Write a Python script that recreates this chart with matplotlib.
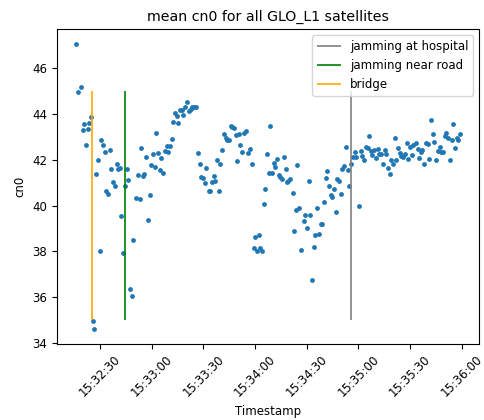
import numpy as np
import pandas as pd
import matplotlib
matplotlib.use("Agg")
import matplotlib.pyplot as plt
import matplotlib.dates as mdates

plt.rcParams.update({'font.size': 8.5})

# seconds after 15:32:30 and mean cn0
base_time = "2023-01-01 15:32:30"
secs = [-13.7, -12.5, -11.0, -10.0, -9.1, -8.1, -7.1, -6.2, -5.4, -4.2, -3.3, -2.1, -1.35, -0.2,
        0.8, 1.7, 2.7, 3.7, 4.6, 5.6, 6.6, 7.7, 8.7, 9.7, 10.6, 11.6, 12.5, 13.3, 14.5, 15.6,
        16.6, 17.6, 18.5, 19.5, 21.0, 22.1, 23.0, 23.9, 24.9, 25.8, 26.8, 27.8, 28.8, 29.7,
        30.9, 31.8, 32.8, 33.8, 34.7, 35.7, 36.9, 37.8, 38.8, 39.8, 40.7, 41.7, 42.7, 43.6,
        44.6, 45.6, 46.5, 47.5, 48.5, 49.6, 50.6, 51.5, 52.7, 53.7, 54.6, 55.6,
        56.9, 57.9, 58.9, 60.0, 61.0, 61.8, 63.1, 63.9, 65.0, 66.0, 67.0, 67.9, 68.9, 69.9,
        70.8, 71.8, 73.0, 74.0, 74.9, 75.9, 76.9, 77.8, 78.8, 79.7, 80.7, 81.6, 82.6, 83.8,
        84.7, 86.0, 87.2, 88.2, 89.2, 90.1, 91.1, 92.3, 93.0, 94.2, 95.0, 95.9, 96.9, 98.1,
        99.0, 100.0, 101.0, 101.9, 102.9, 103.8, 104.8, 105.8, 106.9, 107.9, 108.7, 109.4,
        110.2, 111.8, 112.9, 113.7, 114.6, 115.8, 116.8, 118.3, 119.1, 120.0, 121.2, 122.2,
        123.1, 124.1, 125.1, 126.0, 127.2, 128.2, 129.1, 130.1, 131.1, 132.0, 133.0,
        134.0, 134.9, 135.8, 136.8, 137.8, 138.8, 139.9, 140.8, 141.7, 142.9, 143.8, 144.8,
        145.7, 146.7, 147.9, 148.8, 150.3, 151.3, 152.3, 153.2, 154.4, 155.4, 156.3, 157.3,
        158.2, 159.2, 160.2, 161.2, 162.1, 163.1, 164.1, 165.2, 166.2, 167.2, 168.1, 169.1,
        170.1, 171.0, 172.0, 173.0, 173.9, 174.9, 175.9, 176.8, 178.0, 179.0, 179.9, 181.1,
        182.0, 183.4, 184.4, 185.3, 186.3, 187.2, 188.4, 189.4, 190.3, 191.3, 192.3, 193.2,
        194.2, 195.2, 196.3, 197.3, 198.2, 199.2, 200.2, 201.1, 202.1, 203.2, 204.2, 205.2,
        206.2, 207.1, 208.1, 209.0]
cn0 = [47.07, 44.96, 45.20, 43.29, 43.55, 42.66, 43.33, 43.62, 43.87, 34.94, 34.60, 41.40, 41.98, 38.02,
       42.88, 42.65, 42.36, 40.65, 40.51, 42.43, 41.58, 41.03, 40.87, 41.80, 41.58, 41.66, 39.53, 37.95,
       40.84, 41.58, 41.10, 36.35, 36.06, 38.50, 40.32, 41.35, 40.27, 42.50, 41.29, 41.36, 42.14, 39.39,
       40.48, 41.77, 42.25, 41.67, 43.17, 42.30, 41.57, 42.08, 41.42, 42.38, 42.62, 42.36, 42.59, 42.92,
       43.65, 44.06, 43.90, 43.62, 44.16, 44.17, 43.95, 44.32, 44.51, 44.11, 44.22, 44.29, 44.29, 44.29,
       42.28, 41.83, 41.25, 41.19, 40.97, 41.64, 40.65, 40.65, 41.02, 41.31, 41.06, 41.99, 40.65, 41.83,
       42.43, 43.14, 42.93, 42.88, 42.86, 43.49, 43.44, 43.37, 43.10, 41.95, 43.14, 42.64, 42.33, 43.17,
       43.24, 42.28, 42.47, 41.80, 38.14, 38.65, 38.01, 38.70, 38.15, 38.01, 40.09, 40.73, 42.24, 41.42,
       43.46, 41.44, 41.88, 41.69, 42.05, 41.35, 41.25, 41.16, 42.12, 41.58, 41.02, 41.07,
       41.16, 40.54, 38.89, 39.80, 41.76, 39.88, 38.05, 39.34, 39.61, 39.03, 41.06, 39.61,
       36.77, 38.21, 38.73, 39.91, 38.78, 39.20, 39.20, 40.17, 41.21, 41.51, 40.87,
       40.46, 40.38, 40.73, 39.72, 41.16, 41.09, 40.51, 41.61, 41.73, 42.57, 41.54, 40.87,
       41.83, 42.14, 42.33, 42.14, 39.98, 42.40, 42.18, 42.01, 42.54, 42.50, 43.02, 42.37,
       42.21, 42.41, 42.07, 42.45, 42.25, 42.27, 41.80, 42.41, 42.25, 41.64, 41.39, 41.97,
       41.80, 42.95, 41.97, 42.50, 42.30, 42.15, 42.12, 42.27, 42.73, 42.05, 42.56, 42.21,
       42.64, 42.73, 42.47, 42.07, 42.32, 42.44, 41.80, 42.73, 42.70, 42.05, 43.72, 43.14,
       42.79, 41.97, 42.37, 42.54, 42.32, 42.32, 43.02, 43.17, 42.94, 41.97, 42.85, 43.55,
       42.50, 42.94, 42.87, 43.13]

# event markers
events = ["jamming at hospital", "jamming near road", "bridge"]
event_secs = [145.7, 14.3, -4.4]
event_colors = ["grey", "green", "orange"]
line_lo, line_hi = 35, 45

t0 = pd.Timestamp(base_time)
times = t0 + pd.to_timedelta(secs, unit="s")

fig = plt.figure(figsize=(4.84, 4.2), dpi=100)
ax = fig.add_axes([0.118, 0.182, 0.872, 0.748])

ax.scatter(times, cn0, s=6, color="tab:blue")
for name, s, c in zip(events, event_secs, event_colors):
    ax.vlines(t0 + pd.Timedelta(seconds=s), line_lo, line_hi, colors=c, linewidth=1.2, label=name)

ax.xaxis.set_major_locator(mdates.SecondLocator(bysecond=[0, 30]))
ax.xaxis.set_major_formatter(mdates.DateFormatter("%H:%M:%S"))
plt.setp(ax.get_xticklabels(), rotation=45)

ax.set_title("mean cn0 for all GLO_L1 satellites")
ax.set_xlabel("Timestamp")
ax.set_ylabel("cn0")
ax.legend(loc="upper right")

fig.savefig("out.png", dpi=100)
